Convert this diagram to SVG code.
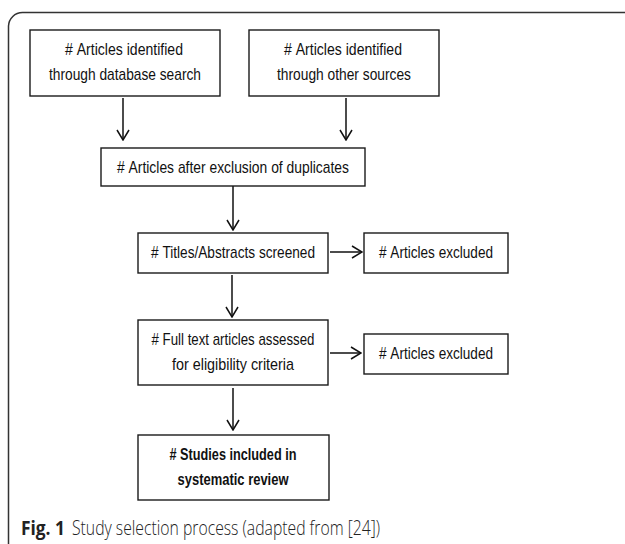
<svg xmlns="http://www.w3.org/2000/svg" width="625" height="544" viewBox="0 0 625 544">
<defs>
<style>
.box{fill:#fff;stroke:#1a1a1a;stroke-width:1.4}
.t{font-family:"Liberation Sans",Arial,sans-serif;font-size:17px;fill:#111;text-anchor:middle}
.b{font-weight:bold}
.c{stroke:#111;stroke-width:1.5;fill:none}
.cap{font-family:"Open Sans","Liberation Sans",sans-serif;font-size:20px;fill:#222}
</style>
<marker id="ah" viewBox="0 0 12 14" refX="11" refY="7" markerWidth="12" markerHeight="14" markerUnits="userSpaceOnUse" orient="auto">
<path d="M1,1 L11,7 L1,13" fill="none" stroke="#111" stroke-width="1.5"/>
</marker>
</defs>
<rect width="625" height="544" fill="#fff"/>
<path d="M8.5,544 V26 A14,14 0 0 1 22.5,12.5 H625" fill="none" stroke="#333" stroke-width="1.5"/>
<g id="connectors">
<line class="c" x1="123" y1="98" x2="123" y2="140" marker-end="url(#ah)"/>
<line class="c" x1="346" y1="98" x2="346" y2="140" marker-end="url(#ah)"/>
<line class="c" x1="233" y1="186" x2="233" y2="230" marker-end="url(#ah)"/>
<line class="c" x1="330" y1="252" x2="362" y2="252" marker-end="url(#ah)"/>
<line class="c" x1="232" y1="275" x2="232" y2="317" marker-end="url(#ah)"/>
<line class="c" x1="330" y1="353" x2="361" y2="353" marker-end="url(#ah)"/>
<line class="c" x1="233" y1="388" x2="233" y2="430" marker-end="url(#ah)"/>
</g>
<g id="n1">
<rect class="box" x="30" y="30" width="190" height="66"/>
<text class="t" x="124" y="55" textLength="118" lengthAdjust="spacingAndGlyphs">#&#160;Articles identified</text>
<text class="t" x="125" y="80" textLength="152" lengthAdjust="spacingAndGlyphs">through database search</text>
</g>
<g id="n2">
<rect class="box" x="249" y="30" width="190" height="66"/>
<text class="t" x="343" y="55" textLength="118" lengthAdjust="spacingAndGlyphs">#&#160;Articles identified</text>
<text class="t" x="344" y="80" textLength="134" lengthAdjust="spacingAndGlyphs">through other sources</text>
</g>
<g id="n3">
<rect class="box" x="101" y="148" width="264" height="38"/>
<text class="t" x="233" y="173" textLength="232" lengthAdjust="spacingAndGlyphs">#&#160;Articles after exclusion of duplicates</text>
</g>
<g id="n4">
<rect class="box" x="138" y="233" width="190" height="40"/>
<text class="t" x="233" y="258" textLength="164" lengthAdjust="spacingAndGlyphs">#&#160;Titles/Abstracts screened</text>
</g>
<g id="n5">
<rect class="box" x="364" y="233" width="144" height="40"/>
<text class="t" x="436" y="258" textLength="114" lengthAdjust="spacingAndGlyphs">#&#160;Articles excluded</text>
</g>
<g id="n6">
<rect class="box" x="138" y="320" width="190" height="65"/>
<text class="t" x="233" y="345" textLength="163" lengthAdjust="spacingAndGlyphs">#&#160;Full text articles assessed</text>
<text class="t" x="233" y="370" textLength="122" lengthAdjust="spacingAndGlyphs">for eligibility criteria</text>
</g>
<g id="n7">
<rect class="box" x="364" y="334" width="144" height="40"/>
<text class="t" x="436" y="359" textLength="114" lengthAdjust="spacingAndGlyphs">#&#160;Articles excluded</text>
</g>
<g id="n8">
<rect class="box" x="138" y="435" width="191" height="65"/>
<text class="t b" x="233" y="460" textLength="127" lengthAdjust="spacingAndGlyphs">#&#160;Studies included in</text>
<text class="t b" x="233" y="485" textLength="111" lengthAdjust="spacingAndGlyphs">systematic review</text>
</g>
<g id="caption">
<text class="cap" x="21" y="535"><tspan font-weight="bold" textLength="44" lengthAdjust="spacingAndGlyphs">Fig. 1</tspan><tspan x="72" font-weight="300" textLength="308" lengthAdjust="spacingAndGlyphs">Study selection process (adapted from [24])</tspan></text>
</g>
</svg>
